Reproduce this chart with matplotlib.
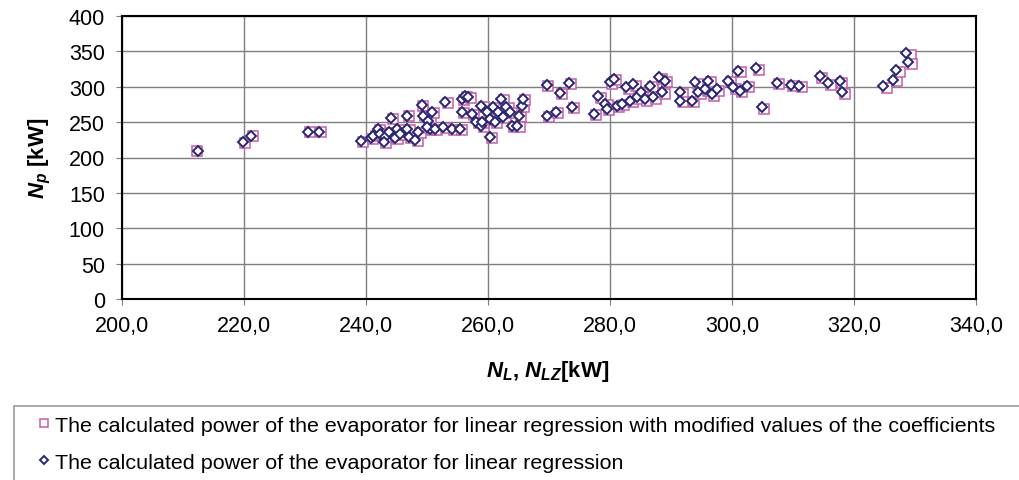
import matplotlib
matplotlib.use("Agg")
import matplotlib.pyplot as plt
from matplotlib.ticker import FixedLocator

plt.rcParams['font.family'] = ['Liberation Sans', 'DejaVu Sans']
plt.rcParams['mathtext.fontset'] = 'custom'
plt.rcParams['mathtext.it'] = 'Liberation Sans:bold:italic'
plt.rcParams['mathtext.rm'] = 'Liberation Sans:bold'
plt.rcParams['mathtext.bf'] = 'Liberation Sans:bold'

# Diamonds: linear regression (x = N_L, y = N_p)
nl = [212.5, 219.9, 221.1, 230.5, 232.3, 239.2, 240.8, 241.9, 241.2, 242.3,
      243.1, 242.9, 243.7, 244.1, 244.8, 245.1, 245.6, 246.7, 246.8, 247.0,
      248.1, 248.6, 249.1, 249.3, 250.2, 250.8, 250.5, 250.0, 251.3, 252.7,
      253.0, 255.7, 256.2, 256.8, 255.7, 257.3, 254.1, 255.4, 258.1, 258.9,
      258.9, 259.8, 260.3, 259.0, 260.3, 260.9, 261.1, 261.6, 262.2, 262.5,
      263.0, 263.6, 263.9, 265.0, 265.5, 265.8, 264.8, 269.6, 271.8, 273.3,
      273.7, 269.6, 271.1, 277.3, 278.1, 279.2, 279.5, 280.0, 280.6, 281.1,
      281.9, 282.7, 283.3, 283.8, 284.4, 285.0, 285.7, 286.6, 287.1, 288.0,
      289.0, 288.6, 291.5, 291.5, 293.4, 294.0, 294.5, 295.6, 296.1, 296.7,
      297.5, 299.4, 300.2, 301.0, 301.3, 302.4, 304.0, 304.9, 307.3, 309.6,
      311.0, 314.4, 315.8, 317.7, 318.0, 324.8, 326.4, 326.9, 328.6, 328.9]
np_lin = [209.6, 221.5, 230.8, 236.5, 236.5, 222.8, 227.5, 240.0, 230.8, 233.0,
          228.5, 221.5, 235.6, 255.4, 227.0, 240.0, 233.0, 259.0, 240.0, 228.5,
          224.7, 235.6, 274.2, 259.0, 252.0, 263.9, 240.3, 242.7, 240.3, 242.7,
          278.0, 282.7, 287.4, 285.0, 264.0, 261.5, 240.3, 240.3, 249.7, 273.2,
          245.0, 264.0, 228.5, 249.7, 254.4, 270.9, 249.7, 264.0, 282.7, 256.8,
          270.9, 264.0, 245.0, 259.0, 273.2, 282.7, 245.0, 302.5, 291.2, 305.3,
          271.8, 259.0, 264.7, 261.5, 286.5, 275.6, 268.6, 306.3, 311.0, 273.2,
          275.6, 299.2, 280.3, 303.9, 285.0, 292.1, 282.7, 301.5, 285.0, 313.4,
          308.6, 292.1, 292.1, 280.3, 280.3, 306.3, 292.1, 296.8, 308.6, 289.8,
          296.8, 308.6, 299.2, 322.7, 294.5, 301.5, 326.0, 270.9, 305.3, 302.9,
          301.5, 314.8, 305.3, 307.7, 292.1, 300.6, 310.0, 324.1, 347.2, 334.6]

# Squares: linear regression with modified coefficients (x = N_LZ, y = N_p)
nlz = [212.3, 220.2, 221.4, 230.9, 232.6, 239.5, 241.1, 242.3, 241.6, 242.7,
       243.5, 243.2, 244.1, 244.4, 245.2, 245.5, 246.0, 247.1, 247.2, 247.4,
       248.5, 249.0, 249.4, 249.7, 250.6, 251.1, 250.9, 250.4, 251.7, 253.1,
       253.4, 256.1, 256.6, 257.2, 256.1, 257.7, 254.5, 255.8, 258.5, 259.3,
       259.3, 260.2, 260.6, 259.4, 260.7, 261.3, 261.5, 262.0, 262.6, 262.9,
       263.4, 264.0, 264.3, 265.4, 265.9, 266.1, 265.2, 269.9, 272.1, 273.6,
       274.1, 270.0, 271.5, 277.7, 278.5, 279.6, 279.9, 280.4, 281.0, 281.5,
       282.3, 283.1, 283.7, 284.2, 284.8, 285.4, 286.1, 287.0, 287.5, 288.5,
       289.4, 289.0, 291.9, 291.9, 293.8, 294.4, 294.9, 296.0, 296.5, 297.1,
       297.9, 299.8, 300.6, 301.4, 301.7, 302.8, 304.4, 305.3, 307.7, 310.0,
       311.4, 314.8, 316.3, 318.1, 318.5, 325.4, 327.1, 327.6, 329.3, 329.5]
np_mod = [209.6, 221.0, 230.0, 236.0, 236.0, 222.0, 226.5, 239.0, 230.0, 232.0,
          227.5, 220.5, 234.5, 254.5, 226.0, 239.0, 232.0, 258.0, 239.0, 227.5,
          223.5, 234.5, 273.0, 258.0, 251.0, 262.5, 239.0, 241.5, 239.0, 241.5,
          276.5, 281.5, 286.0, 283.5, 262.5, 260.0, 239.0, 239.0, 248.5, 271.5,
          243.5, 262.5, 227.0, 248.5, 253.0, 269.5, 248.5, 262.5, 281.0, 255.5,
          269.5, 262.5, 243.5, 257.5, 271.5, 281.0, 243.5, 300.5, 289.5, 303.5,
          270.0, 257.5, 263.0, 259.5, 284.5, 273.5, 266.5, 304.0, 309.0, 271.0,
          273.5, 297.0, 278.0, 301.5, 283.0, 290.0, 280.5, 299.5, 283.0, 311.0,
          306.5, 290.0, 290.0, 278.0, 278.0, 304.0, 290.0, 294.5, 306.5, 287.5,
          294.5, 306.5, 297.0, 320.5, 292.5, 299.5, 324.0, 269.0, 303.5, 301.0,
          299.5, 312.5, 303.0, 305.5, 290.0, 298.5, 307.5, 321.5, 344.5, 332.5]

x_ticks = [200, 220, 240, 260, 280, 300, 320, 340]
x_tick_labels = ["200,0", "220,0", "240,0", "260,0", "280,0", "300,0", "320,0", "340,0"]
y_ticks = [0, 50, 100, 150, 200, 250, 300, 350, 400]

label_mod = "The calculated power of the evaporator for linear regression with modified values of the coefficients"
label_lin = "The calculated power of the evaporator for linear regression"

SQ_COLOR = '#C85BA8'
DI_COLOR = '#262673'

fig = plt.figure(figsize=(10.19, 4.81), dpi=100)
ax = fig.add_axes([122/1019, 1-300/481, (976-122)/1019, (300-17)/481])

h_sq, = ax.plot(nlz, np_mod, linestyle='none', marker='s', markersize=7.4,
                markerfacecolor='white', markeredgecolor=SQ_COLOR,
                markeredgewidth=1.1, zorder=3, label=label_mod)
h_di, = ax.plot(nl, np_lin, linestyle='none', marker='D', markersize=5.0,
                markerfacecolor='white', markeredgecolor=DI_COLOR,
                markeredgewidth=1.4, zorder=4, label=label_lin)

ax.set_xlim(200, 340)
ax.set_ylim(0, 400)
ax.xaxis.set_major_locator(FixedLocator(x_ticks))
ax.set_xticklabels(x_tick_labels)
ax.yaxis.set_major_locator(FixedLocator(y_ticks))
ax.grid(True, color='#7f7f7f', linewidth=1.0, zorder=0)
ax.set_axisbelow(True)
for s in ax.spines.values():
    s.set_linewidth(1.5)
    s.set_color('black')
ax.tick_params(axis='both', labelsize=15.5, length=4.3, width=0.8, color='#7f7f7f')
ax.tick_params(axis='y', pad=8)
ax.tick_params(axis='x', pad=7)

ax.set_ylabel(r'$N_p$ [kW]', fontsize=16, fontweight='bold')
ax.yaxis.set_label_coords(-(122-40)/854, 0.5)
ax.set_xlabel(r'$N_L$, $N_{LZ}$[kW]', fontsize=16, fontweight='bold')
ax.xaxis.set_label_coords((548-122)/854, -(372-300)/283)
ax.xaxis.label.set_verticalalignment('center')
ax.yaxis.label.set_verticalalignment('center')

leg = fig.legend(handles=[h_sq, h_di], labels=[label_mod, label_lin],
                 loc='upper left', bbox_to_anchor=(14/1019, 1-407/481, 1.0, 0.0),
                 mode='expand', fontsize=15.45, frameon=True, fancybox=False,
                 edgecolor='#808080', handlelength=1.9, handletextpad=-0.45,
                 labelspacing=0.85, borderpad=0.45, borderaxespad=0.0,
                 markerscale=0.75, alignment='left')
leg.get_frame().set_linewidth(1.2)

fig.savefig('out.png', dpi=100)
